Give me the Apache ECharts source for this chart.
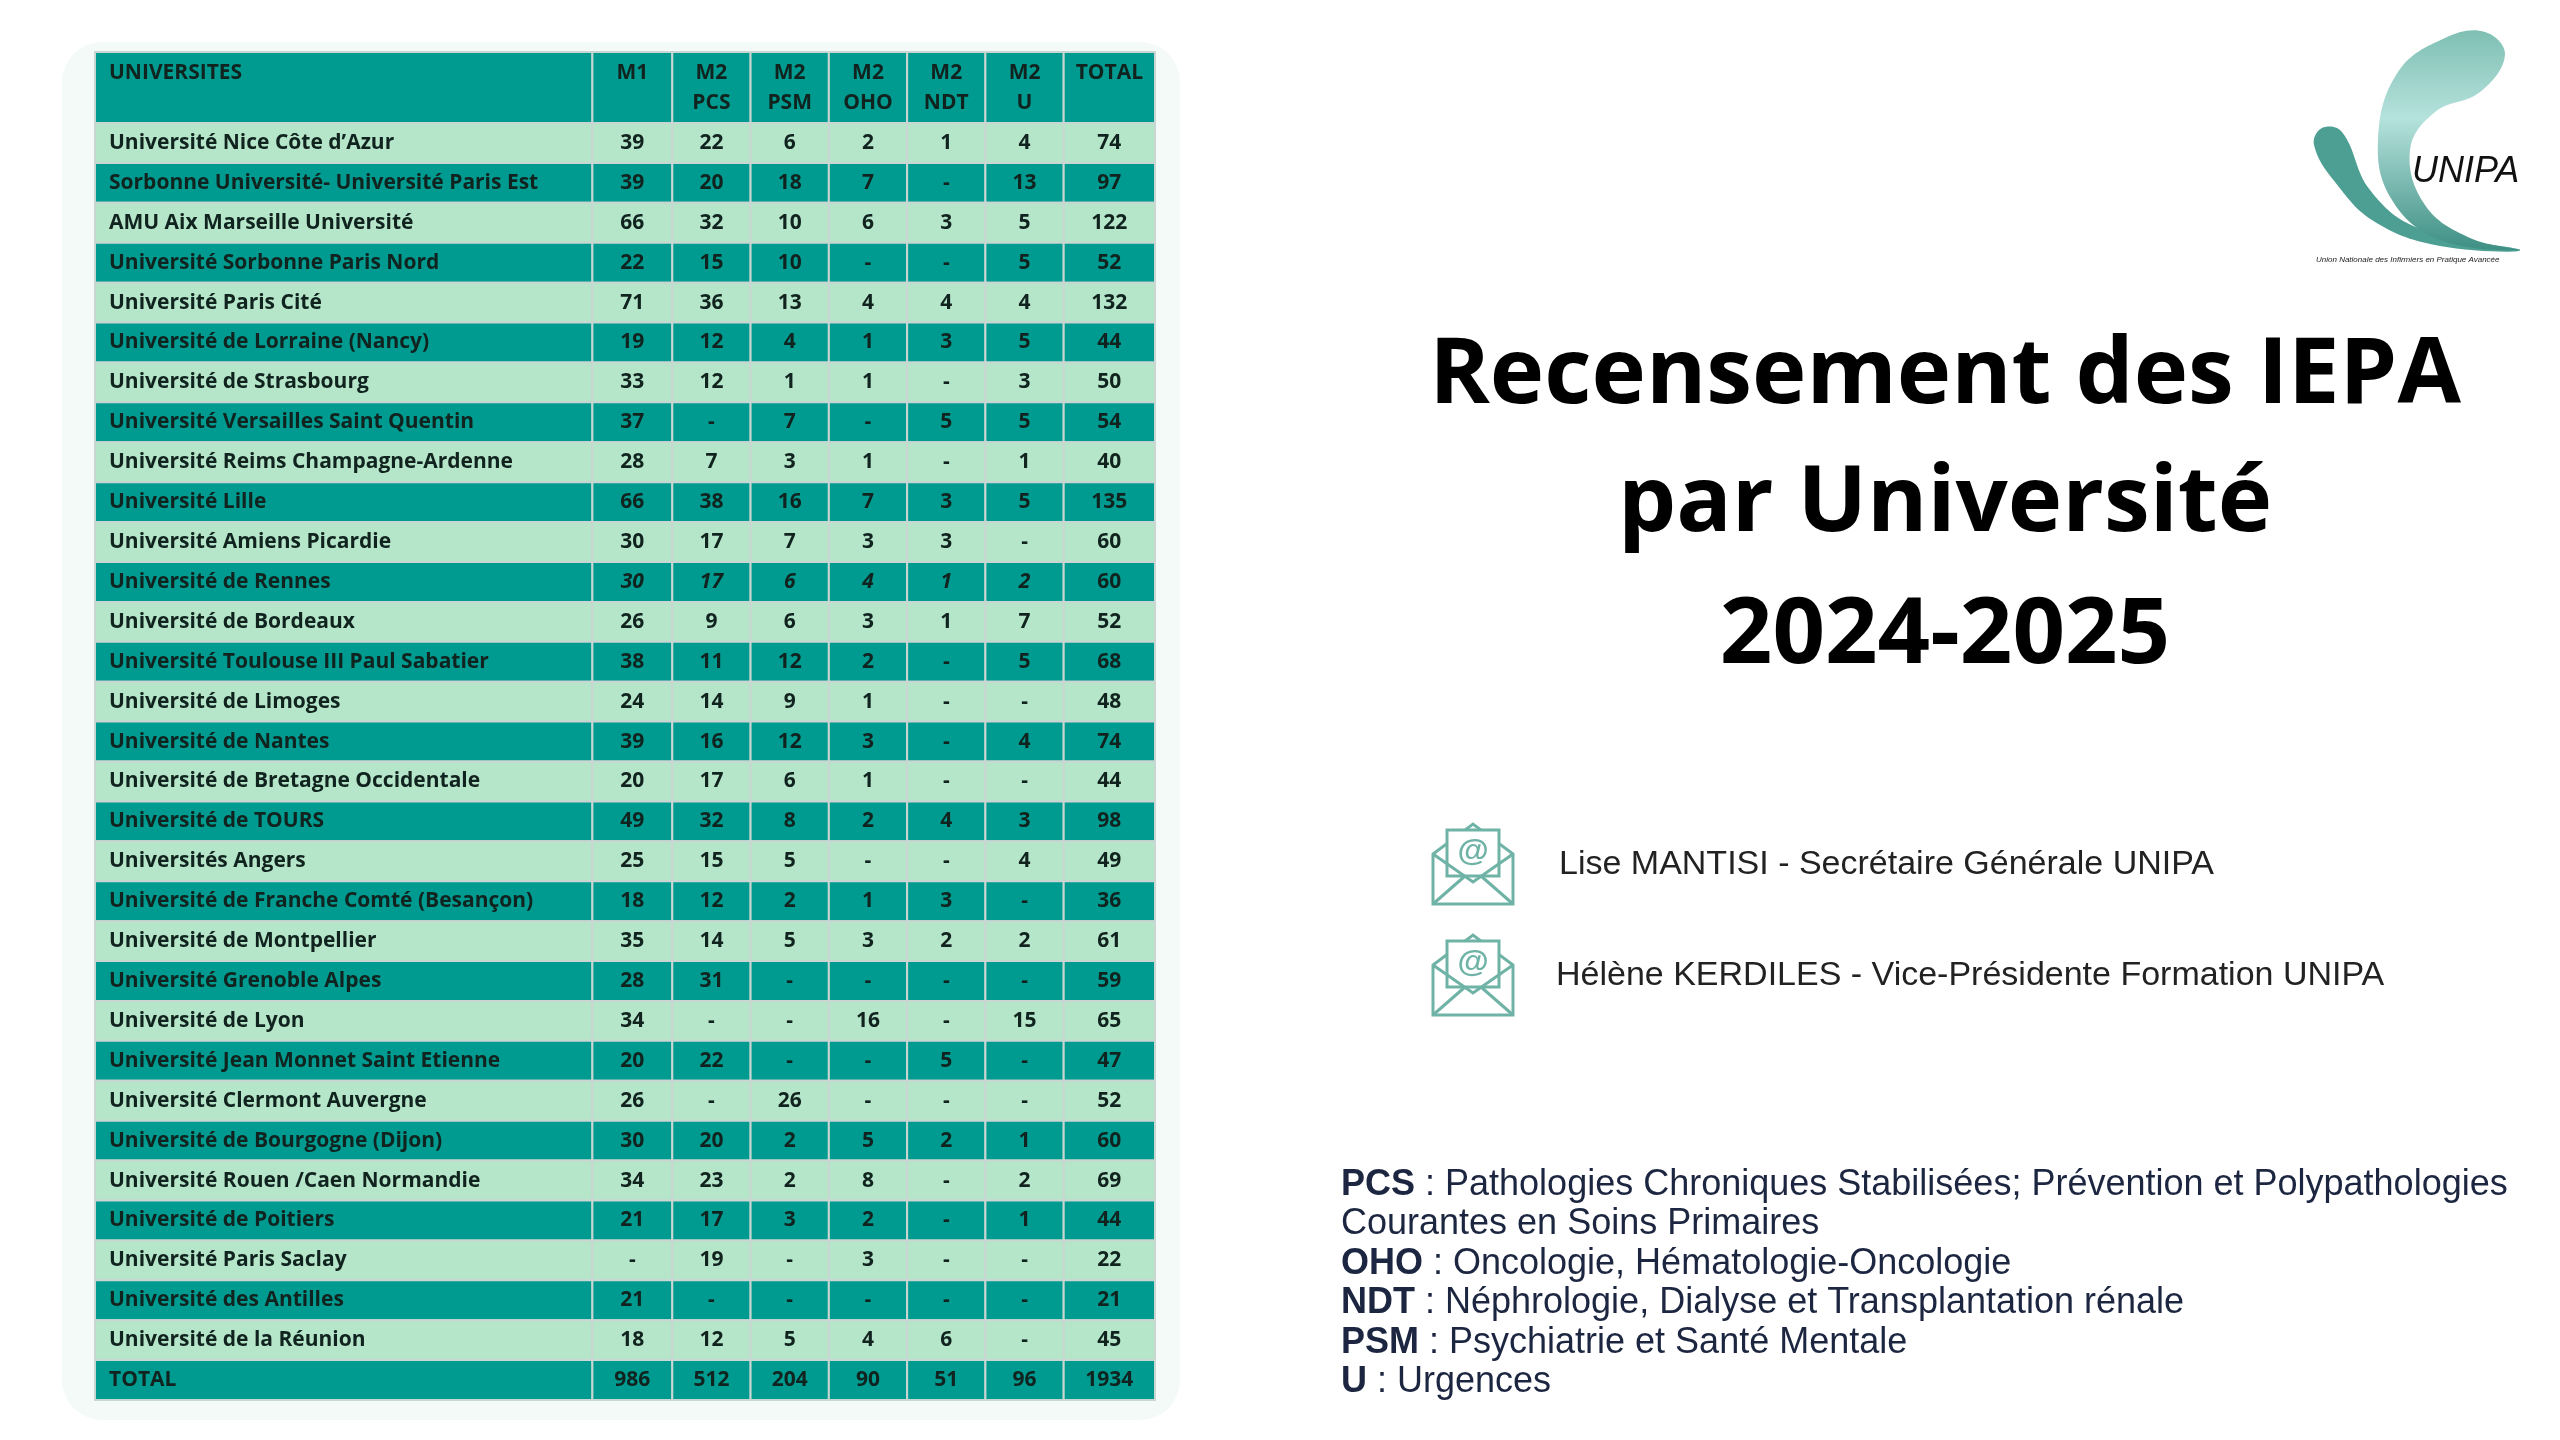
<!DOCTYPE html>
<html>
<head>
<meta charset="utf-8">
<script src="https://cdn.jsdelivr.net/npm/echarts@6/dist/echarts.min.js"></script>
<style>html,body{margin:0;padding:0;background:#fff}#main{width:2560px;height:1440px}</style>
</head>
<body>
<div id="main"></div>
<script>
var headers = ['UNIVERSITES', 'M1', 'M2\nPCS', 'M2\nPSM', 'M2\nOHO', 'M2\nNDT', 'M2\nU', 'TOTAL'];
var universites = [
    'Université Nice Côte d’Azur', 'Sorbonne Université- Université Paris Est', 'AMU Aix Marseille Université',
    'Université Sorbonne Paris Nord', 'Université Paris Cité', 'Université de Lorraine (Nancy)',
    'Université de Strasbourg', 'Université Versailles Saint Quentin', 'Université Reims Champagne-Ardenne',
    'Université Lille', 'Université Amiens Picardie', 'Université de Rennes', 'Université de Bordeaux',
    'Université Toulouse III Paul Sabatier', 'Université de Limoges', 'Université de Nantes',
    'Université de Bretagne Occidentale', 'Université de TOURS', 'Universités Angers',
    'Université de Franche Comté (Besançon)', 'Université de Montpellier', 'Université Grenoble Alpes',
    'Université de Lyon', 'Université Jean Monnet Saint Etienne', 'Université Clermont Auvergne',
    'Université de Bourgogne (Dijon)', 'Université Rouen /Caen Normandie', 'Université de Poitiers',
    'Université Paris Saclay', 'Université des Antilles', 'Université de la Réunion', 'TOTAL'
];
var m1  = [39,39,66,22,71,19,33,37,28,66,30,30,26,38,24,39,20,49,25,18,35,28,34,20,26,30,34,21,null,21,18,986];
var pcs = [22,20,32,15,36,12,12,null,7,38,17,17,9,11,14,16,17,32,15,12,14,31,null,22,null,20,23,17,19,null,12,512];
var psm = [6,18,10,10,13,4,1,7,3,16,7,6,6,12,9,12,6,8,5,2,5,null,null,null,26,2,2,3,null,null,5,204];
var oho = [2,7,6,null,4,1,1,null,1,7,3,4,3,2,1,3,1,2,null,1,3,null,16,null,null,5,8,2,3,null,4,90];
var ndt = [1,null,3,null,4,3,null,5,null,3,3,1,1,null,null,null,null,4,null,3,2,null,null,5,null,2,null,null,null,null,6,51];
var u   = [4,13,5,5,4,5,3,5,1,5,null,2,7,5,null,4,null,3,4,null,2,null,15,null,null,1,2,1,null,null,null,96];
var total = [74,97,122,52,132,44,50,54,40,135,60,60,52,68,48,74,44,98,49,36,61,59,65,47,52,60,69,44,22,21,45,1934];
var italicRow = 11;

var edges = [0, 305, 354, 402, 450, 498, 546, 594, 650];
var cols = [m1, pcs, psm, oho, ndt, u, total];
var font = "'Liberation Sans Narrow','Open Sans','Roboto',sans-serif";
var light = '#b6e6c9', teal = '#009b90', txt = '#10231f';

var body = [];
universites.forEach(function (name, r) {
    body.push([0, r, name]);
    cols.forEach(function (c, i) {
        body.push([i + 1, r, c[r] == null ? '-' : String(c[r])]);
    });
});
var head = headers.map(function (h, i) { return [i, 0, h]; });

function cellText(isHeader, col, row) {
    if (isHeader) return headers[col];
    if (col === 0) return universites[row];
    var v = cols[col - 1][row];
    return v == null ? '-' : String(v);
}

function cell(isHeader) {
    return function (params, api) {
        var col = api.value(0), row = api.value(1);
        var h = api.size([0, 1])[1];
        var p0 = api.coord([edges[col], row]);
        var p1 = api.coord([edges[col + 1], row]);
        var fill = isHeader ? teal : (row === universites.length - 1 ? teal : (row % 2 ? teal : light));
        var italic = !isHeader && row === italicRow && col > 0 && col < 7;
        return {
            type: 'group',
            children: [{
                type: 'rect',
                shape: { x: p0[0], y: p0[1] - h / 2, width: p1[0] - p0[0], height: h },
                style: { fill: fill, stroke: '#c9d6d2', lineWidth: 2 }
            }, {
                type: 'text',
                style: {
                    x: col === 0 ? p0[0] + 14 : (p0[0] + p1[0]) / 2,
                    y: isHeader ? p0[1] - h / 2 + 6 : p0[1],
                    text: cellText(isHeader, col, row),
                    fill: txt,
                    font: (italic ? 'italic ' : '') + 'bold 21px ' + font,
                    lineHeight: 30,
                    align: col === 0 ? 'left' : 'center',
                    verticalAlign: isHeader ? 'top' : 'middle'
                }
            }]
        };
    };
}

function envelope(x, y) {
    var s = '#6fb3a6';
    return {
        type: 'group', x: x, y: y,
        children: [
            { type: 'polygon', shape: { points: [[0, 30], [0, 80], [80, 80], [80, 30], [40, 0]] }, style: { fill: '#fff', stroke: s, lineWidth: 3 } },
            { type: 'rect', shape: { x: 14, y: 6, width: 52, height: 46 }, style: { fill: '#fff', stroke: s, lineWidth: 3 } },
            { type: 'text', style: { x: 40, y: 28, text: '@', font: 'bold 32px sans-serif', fill: s, align: 'center', verticalAlign: 'middle' } },
            { type: 'polyline', shape: { points: [[0, 30], [40, 58], [80, 30]] }, style: { fill: null, stroke: s, lineWidth: 3 } },
            { type: 'line', shape: { x1: 0, y1: 80, x2: 32, y2: 52 }, style: { stroke: s, lineWidth: 3 } },
            { type: 'line', shape: { x1: 80, y1: 80, x2: 48, y2: 52 }, style: { stroke: s, lineWidth: 3 } }
        ]
    };
}

var legendLines = [
    ['PCS', ' : Pathologies Chroniques Stabilisées; Prévention et Polypathologies'],
    ['', 'Courantes en Soins Primaires'],
    ['OHO', ' : Oncologie, Hématologie-Oncologie'],
    ['NDT', ' : Néphrologie, Dialyse et Transplantation rénale'],
    ['PSM', ' : Psychiatrie et Santé Mentale'],
    ['U', ' : Urgences']
];

var titleFont = "bold 92px 'Open Sans',sans-serif";
var graphics = [
    { type: 'rect', z: -10, shape: { x: 62, y: 42, width: 1118, height: 1378, r: 40 }, style: { fill: '#f3faf8' } },
    { type: 'text', style: { x: 1945, y: 377, text: 'Recensement des IEPA', font: titleFont, fill: '#000', align: 'center', verticalAlign: 'middle' } },
    { type: 'text', style: { x: 1945, y: 505, text: 'par Université', font: titleFont, fill: '#000', align: 'center', verticalAlign: 'middle' } },
    { type: 'text', style: { x: 1945, y: 637, text: '2024-2025', font: titleFont, fill: '#000', align: 'center', verticalAlign: 'middle' } },
    envelope(1433, 824),
    envelope(1433, 935),
    { type: 'text', style: { x: 1559, y: 865, text: 'Lise MANTISI - Secrétaire Générale UNIPA', font: "34px 'Liberation Sans',sans-serif", fill: '#222', verticalAlign: 'middle' } },
    { type: 'text', style: { x: 1556, y: 976, text: 'Hélène KERDILES - Vice-Présidente Formation UNIPA', font: "34px 'Liberation Sans',sans-serif", fill: '#222', verticalAlign: 'middle' } },
    // logo
    { type: 'polygon', shape: { smooth: 0.4, points: [[2322, 128], [2342, 132], [2370, 190], [2418, 228], [2520, 250], [2440, 246], [2375, 222], [2335, 182], [2314, 145]] }, style: { fill: '#4e9f93' } },
    { type: 'polygon', shape: { smooth: 0.4, points: [[2485, 32], [2505, 55], [2480, 92], [2435, 112], [2410, 150], [2425, 205], [2470, 238], [2520, 250], [2440, 240], [2392, 200], [2378, 140], [2398, 72], [2445, 38]] }, style: { fill: new echarts.graphic.LinearGradient(0, 0, 0, 1, [{ offset: 0, color: '#7fbfb3' }, { offset: 0.4, color: '#b5e2dc' }, { offset: 1, color: '#3e8f84' }]) } },
    { type: 'text', style: { x: 2412, y: 172, text: 'UNIPA', font: "italic 36px 'Liberation Sans',sans-serif", fill: '#111', verticalAlign: 'middle' } },
    { type: 'text', style: { x: 2316, y: 256, text: 'Union Nationale des Infirmiers en Pratique Avancée', font: "italic 8px 'Liberation Sans',sans-serif", fill: '#222' } }
];
legendLines.forEach(function (l, i) {
    graphics.push({
        type: 'text',
        style: {
            x: 1341, y: 1185 + i * 39.5, verticalAlign: 'middle',
            text: (l[0] ? '{b|' + l[0] + '}' : '') + '{n|' + l[1] + '}',
            rich: {
                b: { fontFamily: 'Liberation Sans', fontWeight: 'bold', fontSize: 36, fill: '#1c2640' },
                n: { fontFamily: 'Liberation Sans', fontSize: 36, fill: '#1c2640' }
            }
        }
    });
});

var chart = echarts.init(document.getElementById('main'));
chart.setOption({
    animation: false,
    grid: [
        { left: 95, top: 52, width: 1060, height: 71 },
        { left: 95, top: 123, width: 1060, height: 1277 }
    ],
    xAxis: [
        { gridIndex: 0, type: 'value', min: 0, max: 650, show: false },
        { gridIndex: 1, type: 'value', min: 0, max: 650, show: false }
    ],
    yAxis: [
        { gridIndex: 0, type: 'category', data: ['h'], show: false },
        { gridIndex: 1, type: 'category', data: universites, inverse: true, show: false }
    ],
    series: [
        { type: 'custom', xAxisIndex: 0, yAxisIndex: 0, renderItem: cell(true), data: head },
        { type: 'custom', xAxisIndex: 1, yAxisIndex: 1, renderItem: cell(false), data: body }
    ],
    graphic: graphics
});
</script>
</body>
</html>
